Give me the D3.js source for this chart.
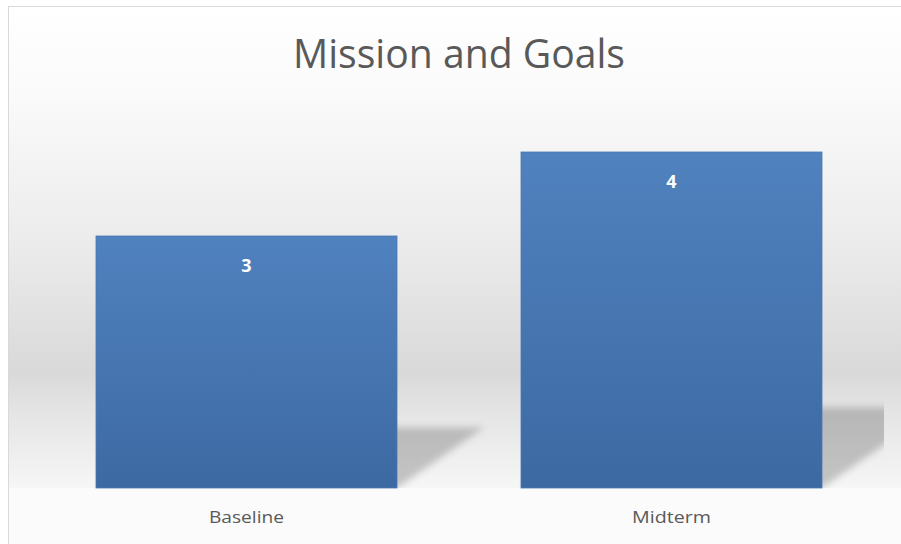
<!DOCTYPE html>
<html>
<head>
<meta charset="utf-8">
<script src="https://cdn.jsdelivr.net/npm/d3@7"></script>
<style>
  html, body { margin: 0; padding: 0; background: #ffffff; }
  svg { display: block; }
</style>
</head>
<body>
<svg id="chart" width="901" height="544"></svg>
<script>
// ---- data ----
const chartTitle = "Mission and Goals";
const categories = ["Baseline", "Midterm"];
const values = [3, 4];
const yDomain = [0, 5];

// ---- layout ----
const W = 901, H = 544;
const plot = { left: 34, right: 884, top: 68, bottom: 488 };

const svg = d3.select("#chart");
const defs = svg.append("defs");

// background gradient
const bg = defs.append("linearGradient").attr("id", "bgGrad")
  .attr("gradientUnits", "userSpaceOnUse")
  .attr("x1", 0).attr("y1", 6).attr("x2", 0).attr("y2", plot.bottom);
[[0, "#ffffff"], [0.19, "#fafafa"], [0.5, "#ebebeb"], [0.76, "#d9d9d9"], [0.83, "#e3e3e3"], [1, "#f6f6f6"]]
  .forEach(([o, c]) => bg.append("stop").attr("offset", o).attr("stop-color", c));

// bar gradient
const bgBar = defs.append("linearGradient").attr("id", "barGrad")
  .attr("x1", 0).attr("y1", 0).attr("x2", 0).attr("y2", 1);
bgBar.append("stop").attr("offset", 0).attr("stop-color", "#5082bf");
bgBar.append("stop").attr("offset", 1).attr("stop-color", "#3d69a2");

// shadow blur
defs.append("filter").attr("id", "blur").attr("x", "-20%").attr("y", "-20%").attr("width", "140%").attr("height", "140%")
  .append("feGaussianBlur").attr("stdDeviation", 3.5);

defs.append("clipPath").attr("id", "plotClip")
  .append("rect").attr("x", 8).attr("y", 0).attr("width", plot.right - 8).attr("height", plot.bottom);

// chart background
svg.append("rect").attr("x", 8).attr("y", 6).attr("width", W).attr("height", H)
  .attr("fill", "#fbfbfb");
svg.append("rect").attr("x", 8).attr("y", 6).attr("width", W).attr("height", plot.bottom - 6)
  .attr("fill", "url(#bgGrad)");
svg.append("rect").attr("x", 8.5).attr("y", 6.5).attr("width", W).attr("height", H)
  .attr("fill", "none").attr("stroke", "#d9d9d9").attr("stroke-width", 1);

// scales
const pi = 1 - 301 / 425;
const x = d3.scaleBand().domain(categories).range([plot.left, plot.right])
  .paddingInner(pi).paddingOuter(pi / 2);
const y = d3.scaleLinear().domain(yDomain).range([plot.bottom, plot.top]);

const data = categories.map((c, i) => ({ cat: c, val: values[i] }));

// shadows
const shadowG = svg.append("g").attr("clip-path", "url(#plotClip)")
  .append("g").attr("filter", "url(#blur)");
shadowG.selectAll("polygon").data(data).enter().append("polygon")
  .attr("points", d => {
    const x0 = x(d.cat), x1 = x(d.cat) + x.bandwidth();
    const b = y(0), h = y(0) - y(d.val);
    const dy = 0.24 * h, dx = 0.345 * h;
    return [[x0, b], [x1, b], [x1 + dx, b - dy], [x0 + dx, b - dy]].map(p => p.join(",")).join(" ");
  })
  .attr("fill", "#000").attr("fill-opacity", 0.2);

// bars
svg.append("g").selectAll("rect").data(data).enter().append("rect")
  .attr("x", d => x(d.cat))
  .attr("y", d => y(d.val))
  .attr("width", x.bandwidth())
  .attr("height", d => y(0) - y(d.val))
  .attr("fill", "url(#barGrad)")
  .attr("stroke", "#4a78b3").attr("stroke-width", 0.8);

// value labels
svg.append("g").selectAll("text").data(data).enter().append("text")
  .attr("x", d => x(d.cat) + x.bandwidth() / 2)
  .attr("y", d => y(d.val) + 36)
  .attr("text-anchor", "middle")
  .attr("font-family", "'Open Sans', sans-serif")
  .attr("font-weight", "bold")
  .attr("font-size", 18)
  .attr("fill", "#ffffff")
  .text(d => d.val);

// x axis
const labelWidths = { "Baseline": 75, "Midterm": 79 };
const ax = svg.append("g").attr("transform", `translate(0,${plot.bottom})`)
  .call(d3.axisBottom(x).tickSize(0).tickPadding(0));
ax.select(".domain").remove();
ax.selectAll(".tick text")
  .attr("y", 35).attr("dy", null)
  .attr("font-family", "'Open Sans', sans-serif")
  .attr("font-size", 16)
  .attr("fill", "#595959")
  .attr("textLength", d => labelWidths[d])
  .attr("lengthAdjust", "spacingAndGlyphs");

// title
svg.append("text")
  .attr("x", 459).attr("y", 68)
  .attr("text-anchor", "middle")
  .attr("font-family", "'Open Sans', sans-serif")
  .attr("font-size", 40)
  .attr("fill", "#595959")
  .attr("textLength", 332)
  .attr("lengthAdjust", "spacingAndGlyphs")
  .text(chartTitle);
</script>
</body>
</html>
